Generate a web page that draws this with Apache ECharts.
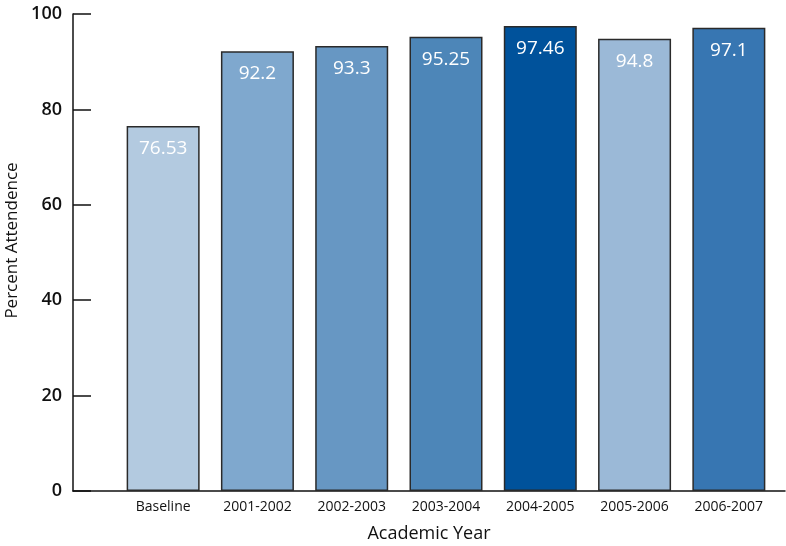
<!DOCTYPE html>
<html>
<head>
<meta charset="utf-8">
<script src="https://cdn.jsdelivr.net/npm/echarts@6/dist/echarts.min.js"></script>
<style>
  html, body { margin: 0; padding: 0; background: #fff; }
  #chart { width: 786px; height: 546px; }
</style>
</head>
<body>
<div id="chart"></div>
<script>
const years = ['Baseline', '2001-2002', '2002-2003', '2003-2004', '2004-2005', '2005-2006', '2006-2007'];
const attendance = [76.53, 92.2, 93.3, 95.25, 97.46, 94.8, 97.1];
const barColors = ['#B3CAE0', '#7FA8CE', '#6797C3', '#4D86B8', '#00529B', '#9BB9D7', '#3776B2'];
const yTicks = [0, 20, 40, 60, 80, 100];

const chart = echarts.init(document.getElementById('chart'));
const font = '"Open Sans", "Noto Sans", sans-serif';

const option = {
  animation: false,
  textStyle: { fontFamily: font },
  grid: [
    // bars
    { left: 116, right: 10, top: 14, bottom: 55, outerBoundsMode: 'none', containLabel: false },
    // axes frame
    { left: 73, right: 1, top: 14, bottom: 55, outerBoundsMode: 'none', containLabel: false }
  ],
  xAxis: [
    {
      type: 'category',
      gridIndex: 0,
      data: years,
      axisLine: { show: false },
      axisTick: { show: false },
      axisLabel: { margin: 9, fontSize: 14, color: '#111', fontFamily: font }
    },
    {
      type: 'value',
      gridIndex: 1,
      min: 0, max: 1,
      name: 'Academic Year',
      nameLocation: 'middle',
      nameGap: 34,
      nameTextStyle: { fontSize: 18, color: '#111', fontFamily: font },
      axisLine: { show: true, lineStyle: { color: '#111', width: 1.5 } },
      axisTick: { show: false },
      axisLabel: { show: false },
      splitLine: { show: false }
    }
  ],
  yAxis: [
    {
      type: 'value',
      gridIndex: 0,
      min: 0, max: 100,
      show: false
    },
    {
      type: 'value',
      gridIndex: 1,
      min: yTicks[0], max: yTicks[yTicks.length - 1], interval: 20,
      name: 'Percent Attendence',
      nameLocation: 'middle',
      nameGap: 50,
      nameTextStyle: { fontSize: 17, color: '#111', fontFamily: font, padding: [0, 0, 0, 24] },
      axisLine: { show: true, lineStyle: { color: '#111', width: 1.5 } },
      axisTick: { show: true, inside: true, length: 18, lineStyle: { color: '#111', width: 1.5 } },
      axisLabel: { margin: 11, fontSize: 18, fontWeight: 600, color: '#111', fontFamily: font },
      splitLine: { show: false }
    }
  ],
  series: [{
    type: 'bar',
    xAxisIndex: 0,
    yAxisIndex: 0,
    barWidth: 73,
    data: attendance.map((v, i) => ({
      value: v,
      itemStyle: { color: barColors[i], borderColor: '#2a2a2a', borderWidth: 1.5 }
    })),
    label: {
      show: true,
      position: 'insideTop',
      distance: 13,
      color: '#fff',
      fontSize: 19,
      fontFamily: font
    }
  }]
};

chart.setOption(option);
</script>
</body>
</html>
